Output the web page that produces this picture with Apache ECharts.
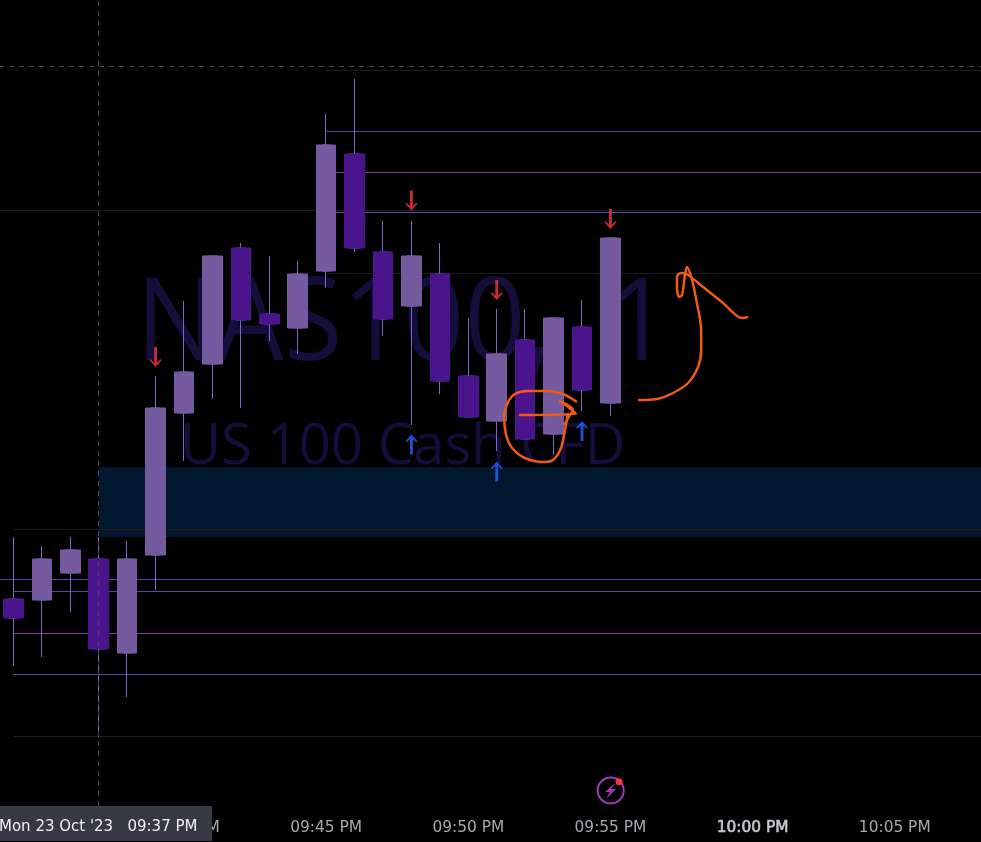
<!DOCTYPE html>
<html>
<head>
<meta charset="utf-8">
<style>
  html, body { margin: 0; padding: 0; background: #000; }
  #chart { width: 981px; height: 842px; }
</style>
<script src="https://cdn.jsdelivr.net/npm/echarts@6/dist/echarts.min.js"></script>
</head>
<body>
<div id="chart"></div>
<script>
const categories = [
  '09:34 PM', '09:35 PM', '09:36 PM', '09:37 PM', '09:38 PM', '09:39 PM', '09:40 PM', '09:41 PM', '09:42 PM',
  '09:43 PM', '09:44 PM', '09:45 PM', '09:46 PM', '09:47 PM', '09:48 PM', '09:49 PM', '09:50 PM', '09:51 PM',
  '09:52 PM', '09:53 PM', '09:54 PM', '09:55 PM', '09:56 PM', '09:57 PM', '09:58 PM', '09:59 PM', '10:00 PM',
  '10:01 PM', '10:02 PM', '10:03 PM', '10:04 PM', '10:05 PM', '10:06 PM', '10:07 PM', '10:08 PM', '10:09 PM'
];

// open, close, low, high
const candles = [
  [14620.1, 14618.2, 14613.4, 14626.3],
  [14620.0, 14624.1, 14614.3, 14625.4],
  [14622.7, 14625.0, 14618.8, 14626.3],
  [14624.1, 14615.1, 14606.3, 14626.3],
  [14614.7, 14624.1, 14610.3, 14625.9],
  [14624.5, 14639.2, 14621.0, 14642.4],
  [14638.7, 14642.8, 14633.9, 14649.9],
  [14643.6, 14654.4, 14640.1, 14654.4],
  [14655.2, 14648.0, 14639.2, 14655.7],
  [14648.6, 14647.6, 14645.9, 14654.4],
  [14647.2, 14652.6, 14644.6, 14653.9],
  [14652.9, 14665.5, 14651.2, 14668.6],
  [14664.6, 14655.2, 14654.8, 14672.1],
  [14654.8, 14648.1, 14646.4, 14657.9],
  [14649.4, 14654.4, 14637.5, 14657.9],
  [14652.6, 14641.9, 14640.6, 14655.7],
  [14642.4, 14638.3, 14638.3, 14648.2],
  [14637.9, 14644.6, 14634.9, 14649.1],
  [14646.0, 14636.1, 14636.1, 14649.1],
  [14636.6, 14648.2, 14634.5, 14648.2],
  [14647.3, 14641.0, 14638.9, 14650.0],
  [14639.7, 14656.2, 14638.4, 14656.2]
];

const sellSignals = [['09:39 PM', 14644.3], ['09:48 PM', 14659.95], ['09:51 PM', 14651.0], ['09:55 PM', 14658.1]];
const buySignals = [['09:48 PM', 14635.55], ['09:51 PM', 14632.85], ['09:54 PM', 14636.9]];

// [price, first bar]
const purpleLevels = [[14666.85, 11.5], [14658.75, 11.5], [14622.05, 0], [14620.85, 0.5], [14612.55, 0.5]];
const pinkLevels = [[14662.75, 11.5], [14616.65, 0.5]];
const faintLevels = [[14672.95, 11.5], [14658.95, 0], [14652.65, 11.5], [14627.05, 0.5], [14606.35, 0.5]];

const zoneTop = 14633.3;
const zoneBottom = 14626.3;
const crossBar = 3.5;
const crossPrice = 14673.35;

// hand drawn strokes, [bar, price]
const strokeCircle = [[20.32, 14639.8], [19.83, 14640.6], [19.27, 14640.9], [18.56, 14640.9], [18.14, 14640.6], [17.90, 14639.8], [17.76, 14638.3], [17.83, 14636.5], [18.04, 14635.2], [18.49, 14634.2], [19.13, 14633.8], [19.48, 14634.0], [19.76, 14635.2], [19.90, 14637.0], [20.01, 14638.7]];
const strokeArrow = [[18.28, 14638.5], [20.29, 14638.6], [20.01, 14639.3], [19.69, 14639.9], [20.18, 14639.0], [20.01, 14638.2], [19.87, 14637.5]];
const strokeSwoosh = [[22.47, 14640.0], [23.14, 14640.1], [23.70, 14640.7], [24.23, 14641.7], [24.58, 14643.3], [24.69, 14645.0], [24.69, 14647.0], [24.54, 14649.7], [24.37, 14652.0], [24.19, 14653.3], [24.12, 14652.5], [24.02, 14650.5], [23.91, 14650.3], [23.84, 14651.3], [23.84, 14652.3], [23.98, 14652.7], [24.23, 14652.5], [24.76, 14651.3], [25.46, 14649.7], [26.13, 14648.2], [26.34, 14648.3]];

const UP = '#755a9f';
const DOWN = '#4a148c';
const WICK = '#7a68c4';
const ORANGE = '#ef5a14';
const ARROW = 'path://M3.8 0H6.2V15.5L9 12.3L10 13.3L5 20L0 13.3L1 12.3L3.8 15.5Z';

const chart = echarts.init(document.getElementById('chart'));

const levelLines = (levels, color) => levels.map(([price, start]) => [
  { coord: [start, price], lineStyle: { color: color, width: 1, type: 'solid' } },
  { coord: [36, price] }
]);

const strokeSeries = (data) => ({
  type: 'line',
  xAxisIndex: 1,
  data: data,
  smooth: 0.3,
  showSymbol: false,
  z: 10,
  lineStyle: { color: ORANGE, width: 2.5 }
});

chart.setOption({
  animation: false,
  backgroundColor: '#000',
  grid: { left: -0.8, top: 0, width: 1023.5, height: 806, outerBoundsMode: 'none' },
  xAxis: [
    {
      type: 'category',
      data: categories,
      boundaryGap: true,
      axisLine: { show: false },
      axisTick: { show: false },
      splitLine: { show: false },
      axisLabel: {
        margin: 14,
        color: '#a6a8ae',
        fontFamily: 'DejaVu Sans',
        fontSize: 15.4,
        interval: (i, v) => Number(v.slice(3, 5)) % 5 === 0,
        formatter: (v) => (v === '10:00 PM' ? '{b|' + v + '}' : v),
        rich: { b: { color: '#c4c6cc', fontFamily: 'DejaVu Sans', fontSize: 15.4, textBorderColor: '#c4c6cc', textBorderWidth: 0.6 } }
      }
    },
    { type: 'value', min: 0, max: 36, show: false }
  ],
  yAxis: { type: 'value', min: 14599.4, max: 14680, show: false },
  series: [
    {
      type: 'line',
      xAxisIndex: 1,
      data: [],
      z: 1,
      markArea: {
        silent: true,
        itemStyle: { color: '#03182f' },
        data: [[{ coord: [crossBar, zoneTop] }, { coord: [36, zoneBottom] }]]
      },
      markLine: {
        silent: true,
        z: 2,
        symbol: 'none',
        label: { show: false },
        data: [
          ...levelLines(faintLevels, '#1d1b22'),
          ...levelLines(purpleLevels, '#5a46a8'),
          ...levelLines(pinkLevels, '#7a3fa4')
        ]
      }
    },
    {
      // wicks, narrow so the bodies hide everything but the wick
      type: 'candlestick',
      data: candles,
      barWidth: 10,
      z: 3,
      itemStyle: { color: WICK, color0: WICK, borderColor: WICK, borderColor0: WICK, borderWidth: 1 }
    },
    {
      // bodies on top of the wicks
      type: 'candlestick',
      data: candles.map(([o, c]) => [o, c, Math.min(o, c), Math.max(o, c)]),
      barWidth: 20,
      z: 4,
      itemStyle: { color: UP, color0: DOWN, borderColor: UP, borderColor0: DOWN, borderWidth: 1 }
    },
    {
      type: 'scatter',
      data: sellSignals,
      symbol: ARROW,
      symbolSize: [12, 20],
      z: 6,
      itemStyle: { color: '#f23645' }
    },
    {
      type: 'scatter',
      data: buySignals,
      symbol: ARROW,
      symbolRotate: 180,
      symbolSize: [12, 20],
      z: 6,
      itemStyle: { color: '#2962ff' }
    },
    {
      // crosshair
      type: 'line',
      xAxisIndex: 1,
      data: [],
      z: 5,
      markLine: {
        silent: true,
        z: 5,
        symbol: 'none',
        label: { show: false },
        lineStyle: { color: '#48484e', width: 1, type: [5, 5] },
        data: [
          [{ coord: [crossBar, 14599.4] }, { coord: [crossBar, 14680] }],
          [{ coord: [0, crossPrice] }, { coord: [36, crossPrice] }]
        ]
      }
    },
    strokeSeries(strokeCircle),
    strokeSeries(strokeArrow),
    strokeSeries(strokeSwoosh)
  ],
  graphic: [
    {
      type: 'text',
      x: 136,
      y: 269,
      scaleX: 0.92,
      z: -10,
      silent: true,
      style: { text: 'NAS100,  1', fill: '#150d3a', font: '116px "Open Sans"' }
    },
    {
      type: 'text',
      x: 180,
      y: 420,
      scaleX: 1.005,
      z: -10,
      silent: true,
      style: { text: 'US 100 Cash CFD', fill: '#150d3a', font: '56px "Open Sans"' }
    },
    {
      type: 'rect',
      z: 20,
      shape: { x: 0, y: 806, width: 212, height: 35 },
      style: { fill: '#363a45' }
    },
    {
      type: 'text',
      z: 21,
      x: -1,
      y: 820,
      style: { text: "Mon 23 Oct '23   09:37 PM", fill: '#f0f1f3', font: '15px "DejaVu Sans"' }
    },
    {
      type: 'circle',
      z: 21,
      shape: { cx: 610.7, cy: 790.5, r: 13 },
      style: { fill: 'none', stroke: '#9c3cb8', lineWidth: 2 }
    },
    {
      type: 'polygon',
      z: 21,
      shape: { points: [[615, 783], [605, 792], [610, 792], [606, 799], [616, 789], [611, 789]] },
      style: { fill: '#9c3cb8' }
    },
    {
      type: 'circle',
      z: 22,
      shape: { cx: 619, cy: 781.7, r: 3.5 },
      style: { fill: '#f23645' }
    }
  ]
});
</script>
</body>
</html>
